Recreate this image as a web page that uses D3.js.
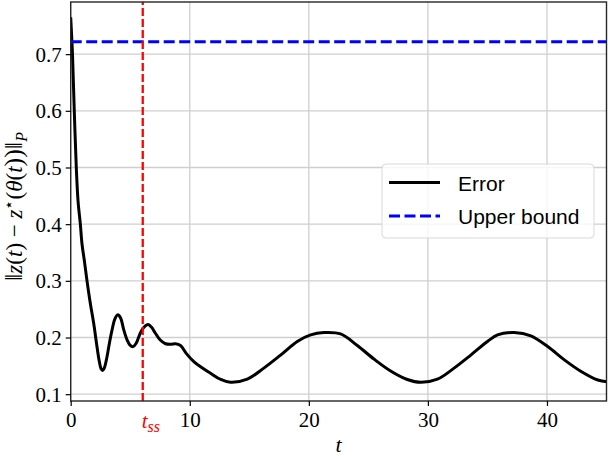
<!DOCTYPE html>
<html>
  <head>
    <meta charset="utf-8">
    <title>Error vs upper bound</title>
    <style>
      body { margin: 0; background: #fff; }
      .tick-lbl { font-family: "Liberation Serif", serif; font-size: 21px; fill: #000; }
      .legend text { font-family: "Liberation Sans", sans-serif; font-size: 21px; fill: #000; }
    </style>
  </head>
  <body>
    <div id="chart"></div>
    <script src="https://d3js.org/d3.v7.min.js"></script>
    <script>
    // time samples (t) and error norm
    var errT = [0, 0.15, 0.3, 0.47, 0.62, 0.81, 0.95, 1.15, 1.37, 1.65, 1.93, 2.2, 2.4, 2.55, 2.68, 2.82,
                3.05, 3.25, 3.47, 3.7, 3.95, 4.2, 4.45, 4.75, 5.0, 5.24, 5.5, 5.85, 6.15, 6.5, 6.8, 7.1,
                7.5, 7.96, 8.4, 8.8, 9.22, 9.7, 10.34, 11.0, 11.74, 12.6, 13.42, 14.83, 16.22,
                17.63, 19.03, 20.15, 21.27, 22.67, 24.07, 25.47, 26.87, 28.27, 29.4, 30.8, 32.2,
                33.6, 35.0, 35.85, 37.25, 38.65, 40.06, 41.46, 42.87, 44.27, 45.1];
    var errV = [0.765, 0.70, 0.60, 0.50, 0.44, 0.40, 0.365, 0.335, 0.30, 0.26, 0.225, 0.185, 0.158, 0.145, 0.142, 0.146,
                0.166, 0.19, 0.213, 0.232, 0.24, 0.234, 0.214, 0.195, 0.186, 0.184, 0.19, 0.208, 0.218, 0.223, 0.218, 0.208,
                0.196, 0.189, 0.188, 0.189, 0.186, 0.172, 0.1575, 0.147, 0.137, 0.126, 0.121, 0.1265, 0.146,
                0.169, 0.193, 0.2046, 0.2087, 0.2063, 0.186, 0.162, 0.141, 0.126, 0.121, 0.1265, 0.146,
                0.169, 0.193, 0.2046, 0.2087, 0.203, 0.184, 0.1605, 0.140, 0.125, 0.122];
    var upperBound = 0.722;
    var tSS = 6.05;
    var xTicks = [0, 10, 20, 30, 40];
    var yTicks = [0.1, 0.2, 0.3, 0.4, 0.5, 0.6, 0.7];
    var legendLabels = ['Error', 'Upper bound'];

    var W = 608, H = 456;
    var x = d3.scaleLinear().domain([0, 45]).range([70.7, 606.5]);
    var y = d3.scaleLinear().domain([0.088, 0.792]).range([401, 2]);

    var svg = d3.select('#chart').append('svg')
      .attr('width', W).attr('height', H)
      .style('display', 'block');

    svg.append('defs').append('clipPath').attr('id', 'plot-clip')
      .append('rect')
      .attr('x', x.range()[0]).attr('y', y.range()[1])
      .attr('width', x.range()[1] - x.range()[0])
      .attr('height', y.range()[0] - y.range()[1]);

    // grid
    var grid = svg.append('g').attr('stroke', '#cfcfcf').attr('stroke-width', 1.3);
    grid.selectAll('.gx').data(xTicks).enter().append('line')
      .attr('x1', x).attr('x2', x)
      .attr('y1', y.range()[0]).attr('y2', y.range()[1]);
    grid.selectAll('.gy').data(yTicks).enter().append('line')
      .attr('x1', x.range()[0]).attr('x2', x.range()[1])
      .attr('y1', y).attr('y2', y);

    var plot = svg.append('g').attr('clip-path', 'url(#plot-clip)');

    // error curve
    var pts = errT.map(function(t, i) { return [t, errV[i]]; });
    var line = d3.line()
      .x(function(d) { return x(d[0]); })
      .y(function(d) { return y(d[1]); })
      .curve(d3.curveCatmullRom.alpha(0.5));
    plot.append('path')
      .datum(pts)
      .attr('d', line)
      .attr('fill', 'none')
      .attr('stroke', '#000')
      .attr('stroke-width', 3)
      .attr('stroke-linejoin', 'round');

    // upper bound
    plot.append('line')
      .attr('x1', x.range()[0]).attr('x2', x.range()[1])
      .attr('y1', y(upperBound)).attr('y2', y(upperBound))
      .attr('stroke', '#0000ff').attr('stroke-width', 3)
      .attr('stroke-dasharray', '11,4.5');

    // t_ss marker
    plot.append('line')
      .attr('x1', x(tSS)).attr('x2', x(tSS))
      .attr('y1', y.range()[0]).attr('y2', y.range()[1])
      .attr('stroke', '#ff0000').attr('stroke-width', 2.3)
      .attr('stroke-dasharray', '8,3');

    // axes frame
    svg.append('rect')
      .attr('x', x.range()[0]).attr('y', y.range()[1])
      .attr('width', x.range()[1] - x.range()[0])
      .attr('height', y.range()[0] - y.range()[1])
      .attr('fill', 'none').attr('stroke', '#262626').attr('stroke-width', 1.4);

    var xAxis = svg.append('g')
      .attr('transform', 'translate(0,' + y.range()[0] + ')')
      .call(d3.axisBottom(x).tickValues(xTicks).tickSize(5).tickPadding(6).tickFormat(d3.format('d')));
    var yAxis = svg.append('g')
      .attr('transform', 'translate(' + x.range()[0] + ',0)')
      .call(d3.axisLeft(y).tickValues(yTicks).tickSize(5).tickPadding(4).tickFormat(d3.format('.1f')));
    [xAxis, yAxis].forEach(function(a) {
      a.attr('font-family', null).attr('font-size', null);
      a.select('.domain').remove();
      a.selectAll('.tick line').attr('stroke', '#000').attr('stroke-width', 1.2);
      a.selectAll('.tick text')
        .style('font-family', '"Liberation Serif", serif')
        .style('font-size', '21px')
        .attr('fill', '#000');
    });
    yAxis.selectAll('.tick text').attr('dy', '0.34em');

    // t_ss label
    var tssLbl = svg.append('text')
      .attr('x', x(tSS) - 1).attr('y', 428)
      .attr('class', 'tick-lbl')
      .style('fill', '#ff0000')
      .style('font-style', 'italic');
    tssLbl.append('tspan').text('t');
    tssLbl.append('tspan').attr('dy', 4).style('font-size', '16px').text('ss');

    // x label
    svg.append('text')
      .attr('x', (x.range()[0] + x.range()[1]) / 2).attr('y', 452)
      .attr('text-anchor', 'middle')
      .attr('class', 'tick-lbl')
      .style('font-style', 'italic')
      .style('font-size', '22px')
      .text('t');

    // y label
    var yl = svg.append('text')
      .attr('transform', 'translate(22,' + ((y.range()[0] + y.range()[1]) / 2 + 5) + ') rotate(-90)')
      .attr('text-anchor', 'middle')
      .attr('class', 'tick-lbl')
      .style('font-size', '23px');
    var parts = [['‖', 0], ['z', 1], ['(', 0], ['t', 1], [') − ', 0], ['z', 1], ['⋆', 0, -8], ['(', 0, 8], ['θ', 1], ['(', 0], ['t', 1], ['))‖', 0]];
    parts.forEach(function(p) {
      var ts = yl.append('tspan').text(p[0]);
      if (p[1]) ts.style('font-style', 'italic');
      if (p[2]) ts.attr('dy', p[2]);
      if (p[0] === '⋆') ts.style('font-size', '16px');
      if (p[0] === '‖' || p[0] === '))‖') ts.style('font-size', '26px');
    });
    yl.append('tspan').attr('dy', 5).style('font-style', 'italic').style('font-size', '16px').text('P');

    // legend
    var leg = svg.append('g').attr('class', 'legend');
    leg.append('rect')
      .attr('x', 382).attr('y', 164).attr('width', 212).attr('height', 74)
      .attr('rx', 4)
      .attr('fill', '#fff').attr('fill-opacity', 0.8)
      .attr('stroke', '#d9d9d9').attr('stroke-width', 1);
    var legStyles = [
      { stroke: '#000', dash: null },
      { stroke: '#0000ff', dash: '11,4.5' }
    ];
    legendLabels.forEach(function(lbl, i) {
      var ly = 182.5 + i * 33.5;
      leg.append('line')
        .attr('x1', 389).attr('x2', 440)
        .attr('y1', ly).attr('y2', ly)
        .attr('stroke', legStyles[i].stroke).attr('stroke-width', 3)
        .attr('stroke-dasharray', legStyles[i].dash);
      leg.append('text')
        .attr('x', 458).attr('y', ly + 8)
        .text(lbl);
    });
    </script>
  </body>
</html>
